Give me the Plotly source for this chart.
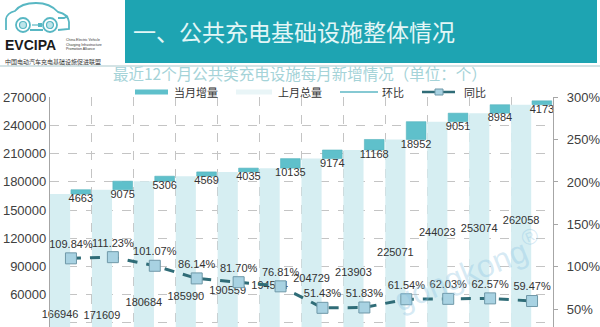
import plotly.graph_objects as go

# Monthly public charging facility data (units: pieces)
months = list(range(12))
prev_total = [166946, 171609, 180684, 185990, 190559, 194594,
              204729, 213903, 225071, 244023, 253074, 262058]
monthly_add = [4663, 9075, 5306, 4569, 4035, 10135,
               9174, 11168, 18952, 9051, 8984, 4173]
yoy_pct = [109.84, 111.23, 101.07, 86.14, 81.70, 76.81,
           51.43, 51.83, 61.54, 62.03, 62.57, 59.47]
left_ticks = [30000, 60000, 90000, 120000, 150000, 180000, 210000, 240000, 270000]
right_ticks = [50, 100, 150, 200, 250, 300]

# heights (left-axis units) where the running-total labels sit
total_label_at = [38300, 37200, 51000, 57400, 63800, 69100,
                  76600, 83000, 104000, 125500, 129800, 138300]

TEAL = "#5fc0cb"
PALE = "#d6eef2"
DARK = "#2f6c77"
NUM_FONT = "Liberation Sans, Arial, sans-serif"
CJK_FONT = "Noto Sans CJK SC, sans-serif"

# plot-area edges in pixels, used to place header / legend decorations
PL, PR, PT, PB = 50, 553, 97, 327


def px(x):
    return (x - PL) / (PR - PL)


def py(y):
    return (PB - y) / (PB - PT)


fig = go.Figure()

fig.add_trace(go.Bar(
    x=months, y=prev_total, offset=-0.5, width=0.48,
    marker=dict(color=PALE, line=dict(width=0)), name="上月总量",
    hoverinfo="y"))
fig.add_trace(go.Bar(
    x=months, y=monthly_add, base=prev_total, offset=0.0, width=0.47,
    marker=dict(color=TEAL, line=dict(color="#55b3be", width=0.6)), name="当月增量",
    hoverinfo="y"))

# labels for the monthly increase, just under each floating bar
fig.add_trace(go.Scatter(
    x=[m + 0.235 for m in months], y=prev_total, mode="text",
    text=[str(v) for v in monthly_add], textposition="bottom center",
    textfont=dict(family=NUM_FONT, size=11, color="#333333"),
    cliponaxis=False, hoverinfo="skip", showlegend=False))

# labels for the previous-month totals
fig.add_trace(go.Scatter(
    x=[m - 0.26 for m in months], y=total_label_at, mode="text",
    text=[str(v) for v in prev_total], textposition="middle center",
    textfont=dict(family=NUM_FONT, size=11, color="#333333"),
    cliponaxis=False, hoverinfo="skip", showlegend=False))

# year-on-year growth line on the right axis
fig.add_trace(go.Scatter(
    x=months, y=yoy_pct, yaxis="y2", mode="lines+markers+text",
    line=dict(color=DARK, width=3, dash="10px,9px"),
    marker=dict(symbol="square", size=11, color="#a8d2e2",
                line=dict(color="#6f98a8", width=1)),
    text=[f"{v:.2f}%" for v in yoy_pct], textposition="top center",
    textfont=dict(family=NUM_FONT, size=11, color="#333333"),
    cliponaxis=False, name="同比", hoverinfo="y"))

shapes = []
annotations = []

# header banner
shapes.append(dict(type="rect", xref="paper", yref="paper",
                   x0=px(125), x1=px(597), y0=py(63), y1=py(0),
                   fillcolor="#1ea4b2", line=dict(width=0), layer="above"))
shapes.append(dict(type="line", xref="paper", yref="paper",
                   x0=px(0), x1=px(600), y0=py(66), y1=py(66),
                   line=dict(color="#c6dadd", width=1.5)))
annotations.append(dict(xref="paper", yref="paper", x=px(294), y=py(31),
                        text="一、公共充电基础设施整体情况", showarrow=False,
                        font=dict(family=CJK_FONT, size=23, color="#e2f6f6"),
                        xanchor="center", yanchor="middle"))

# logo: car outline with charging plug
car = (f"M{px(6)},{py(30)} L{px(6)},{py(19)} Q{px(7)},{py(13)} {px(15)},{py(11)} "
       f"Q{px(21)},{py(3)} {px(36)},{py(3)} Q{px(50)},{py(3)} {px(58)},{py(12)} "
       f"Q{px(68)},{py(14)} {px(69)},{py(22)} L{px(69)},{py(29)} L{px(58)},{py(30)} "
       f"M{px(30)},{py(30)} L{px(43)},{py(30)} "
       f"M{px(58)},{py(18)} L{px(64)},{py(18)} L{px(68)},{py(16)}")
shapes.append(dict(type="path", xref="paper", yref="paper", path=car,
                   line=dict(color="#58b7c3", width=1.8)))
for cx in (23, 50):
    shapes.append(dict(type="circle", xref="paper", yref="paper",
                       x0=px(cx - 7), x1=px(cx + 7), y0=py(32), y1=py(18),
                       line=dict(color="#58b7c3", width=1.8), fillcolor="white"))
    shapes.append(dict(type="circle", xref="paper", yref="paper",
                       x0=px(cx - 3.5), x1=px(cx + 3.5), y0=py(28.5), y1=py(21.5),
                       line=dict(color="#58b7c3", width=1.2), fillcolor="#bfe5ea"))
shapes.append(dict(type="line", xref="paper", yref="paper",
                   x0=px(32), x1=px(40), y0=py(25), y1=py(25),
                   line=dict(color="#58b7c3", width=1.2)))
shapes.append(dict(type="rect", xref="paper", yref="paper",
                   x0=px(38), x1=px(42), y0=py(27), y1=py(23),
                   fillcolor="#58b7c3", line=dict(width=0)))
annotations.append(dict(xref="paper", yref="paper", x=px(3), y=py(45),
                        text="<b>EVCIPA</b>", showarrow=False,
                        font=dict(family=NUM_FONT, size=14, color="#1b1b1b"),
                        xanchor="left", yanchor="middle"))
for ly, line in ((40, "China Electric Vehicle"), (44.5, "Charging Infrastructure"),
                 (49, "Promotion Alliance")):
    annotations.append(dict(xref="paper", yref="paper", x=px(64), y=py(ly),
                            text=line, showarrow=False,
                            font=dict(family=NUM_FONT, size=3.5, color="#333333"),
                            xanchor="left", yanchor="middle"))
annotations.append(dict(xref="paper", yref="paper", x=px(3), y=py(61),
                        text="中国电动汽车充电基础设施促进联盟", showarrow=False,
                        font=dict(family=CJK_FONT, size=6, color="#333333"),
                        xanchor="left", yanchor="middle"))

# chart title
annotations.append(dict(xref="paper", yref="paper", x=px(300), y=py(73),
                        text="最近12个月公共类充电设施每月新增情况（单位：个）",
                        showarrow=False,
                        font=dict(family=CJK_FONT, size=15.5, color="#a5d3d8"),
                        xanchor="center", yanchor="middle"))

# legend row
LY = 92
shapes.append(dict(type="rect", xref="paper", yref="paper",
                   x0=px(135), x1=px(168), y0=py(LY + 2.5), y1=py(LY - 2.5),
                   fillcolor=TEAL, line=dict(width=0)))
shapes.append(dict(type="rect", xref="paper", yref="paper",
                   x0=px(236), x1=px(272), y0=py(LY + 2.5), y1=py(LY - 2.5),
                   fillcolor="#e9f5f7", line=dict(width=0)))
shapes.append(dict(type="line", xref="paper", yref="paper",
                   x0=px(340), x1=px(378), y0=py(LY), y1=py(LY),
                   line=dict(color="#86c9d3", width=2)))
shapes.append(dict(type="line", xref="paper", yref="paper",
                   x0=px(422), x1=px(455), y0=py(LY), y1=py(LY),
                   line=dict(color=DARK, width=2.5)))
shapes.append(dict(type="rect", xref="paper", yref="paper",
                   x0=px(435), x1=px(443), y0=py(LY + 3), y1=py(LY - 3),
                   fillcolor="#a8d2e2", line=dict(color="#6f98a8", width=1)))
for lx, txt in ((172, "当月增量"), (276, "上月总量"), (380, "环比"), (462, "同比")):
    annotations.append(dict(xref="paper", yref="paper", x=px(lx), y=py(LY),
                            text=txt, showarrow=False,
                            font=dict(family=CJK_FONT, size=11, color="#333333"),
                            xanchor="left", yanchor="middle"))

# watermark
annotations.append(dict(xref="paper", yref="paper", x=px(468), y=py(270),
                        text="gongkong<sup>®</sup>", showarrow=False, textangle=-22,
                        font=dict(family=NUM_FONT, size=32, color="rgba(140,195,225,0.35)"),
                        xanchor="center", yanchor="middle"))

fig.update_layout(
    width=600, height=327,
    margin=dict(l=PL, r=600 - PR, t=PT, b=0, autoexpand=False),
    paper_bgcolor="white", plot_bgcolor="white",
    barmode="overlay", showlegend=False,
    shapes=shapes, annotations=annotations,
    xaxis=dict(range=[-0.5, 11.5], tickvals=[m + 0.5 for m in months[:-1]],
               showticklabels=False, showgrid=True, gridcolor="#c4c4c4",
               griddash="dash", gridwidth=1, zeroline=False, showline=False),
    yaxis=dict(range=[25500, 270300], tickvals=left_ticks, tickformat="d",
               showgrid=True, gridcolor="#c4c4c4", griddash="dash",
               zeroline=False, showline=True, linecolor="#a6a6a6", linewidth=1.2,
               tickfont=dict(family=NUM_FONT, size=13, color="#404040")),
    yaxis2=dict(range=[28.8, 300.3], tickvals=right_ticks,
                ticktext=[f"{v}%" for v in right_ticks],
                ticklabeloverflow="allow",
                overlaying="y", side="right", showgrid=False, zeroline=False,
                showline=True, linecolor="#a6a6a6", linewidth=1.2,
                ticks="outside", ticklen=4, tickcolor="#a6a6a6",
                ticklabelstandoff=6,
                tickfont=dict(family=NUM_FONT, size=13, color="#404040")),
)

fig.write_html("out.html")
